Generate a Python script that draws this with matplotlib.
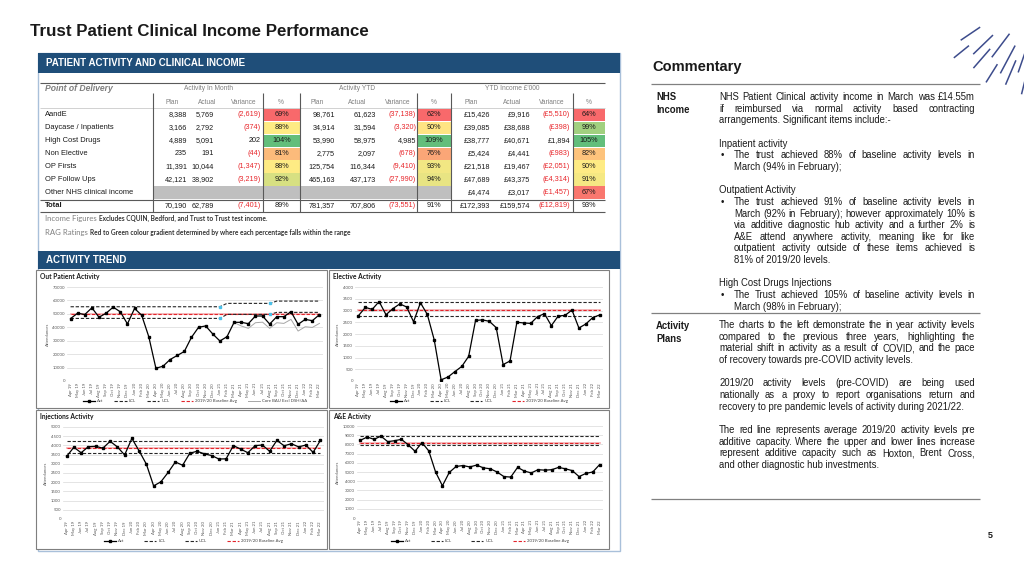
import matplotlib.pyplot as plt
import numpy as np
from matplotlib.patches import Rectangle
from matplotlib.colors import LinearSegmentedColormap
from matplotlib.lines import Line2D

# ---------------- table data ----------------
pod = ['AandE', 'Daycase / Inpatients', 'High Cost Drugs', 'Non Elective', 'OP Firsts',
       'OP Follow Ups', 'Other NHS clinical income', 'Total']
m_plan = [8388, 3166, 4889, 235, 11391, 42121, None, 70190]
m_act = [5769, 2792, 5091, 191, 10044, 38902, None, 62789]
m_var = [-2619, -374, 202, -44, -1347, -3219, None, -7401]
m_pct = [69, 88, 104, 81, 88, 92, None, 89]
y_plan = [98761, 34914, 53990, 2775, 125754, 465163, None, 781357]
y_act = [61623, 31594, 58975, 2097, 116344, 437173, None, 707806]
y_var = [-37138, -3320, 4985, -678, -9410, -27990, None, -73551]
y_pct = [62, 90, 109, 76, 93, 94, None, 91]
i_plan = [15426, 39085, 38777, 5424, 21518, 47689, 4474, 172393]
i_act = [9916, 38688, 40671, 4441, 19467, 43375, 3017, 159574]
i_var = [-5510, -398, 1894, -983, -2051, -4314, -1457, -12819]
i_pct = [64, 99, 105, 82, 90, 91, 67, 93]

# ---------------- chart data (Apr 19 - Mar 22) ----------------
mon = ['Apr', 'May', 'Jun', 'Jul', 'Aug', 'Sep', 'Oct', 'Nov', 'Dec', 'Jan', 'Feb', 'Mar']
months = [f'{m} {y + (1 if i > 8 else 0)}' for y in (19, 20, 21) for i, m in enumerate(mon)]

op_act = [46500, 50500, 49500, 54500, 47500, 50500, 55000, 51500, 42500, 54000, 49000, 33000,
          9500, 11000, 16000, 19000, 22000, 32500, 40000, 41000, 35000, 29800, 33000, 43700,
          43700, 42700, 48400, 48400, 42400, 47900, 47900, 51600, 42200, 45900, 44900, 49400]
op_core = [np.nan] * 23 + [43500, 41000, 39200, 43400, 43800, 39200, 43400, 42900, 45900,
                           37200, 40400, 39900, 42900]
op_ucl_levels = [55300, 57800, 59500]
op_lcl_levels = [46600, 49600, 51100]
op_steps = [21, 28]          # last month of each control-limit level (Jan 21, Aug 21)
op_base = 50100

el_act = [2780, 3130, 3050, 3380, 2820, 3080, 3280, 3150, 2520, 3330, 2830, 1750,
          50, 170, 400, 620, 1050, 2580, 2600, 2540, 2270, 700, 850, 2500,
          2470, 2450, 2740, 2865, 2355, 2765, 2795, 3020, 2255, 2425, 2695, 2810]
el_ucl, el_lcl, el_base = 3376, 2780, 3021

inj_act = [3400, 3900, 3600, 3930, 3950, 3850, 4220, 3920, 3480, 4380, 3700, 2980,
           1800, 2020, 2530, 3100, 2920, 3580, 3680, 3540, 3450, 3260, 3270, 3990,
           3800, 3600, 3990, 4020, 3680, 4270, 3980, 4090, 3920, 4020, 3620, 4270]
inj_ucl, inj_lcl, inj_base = 4220, 3600, 3850

ae_act = [8450, 8800, 8550, 8900, 8300, 8400, 8550, 7950, 7250, 8200, 7300, 5000,
          3500, 4950, 5600, 5700, 5550, 5750, 5450, 5350, 5000, 4500, 4450, 5500,
          5100, 4900, 5250, 5200, 5250, 5500, 5350, 5150, 4500, 4850, 5000, 5800]
ae_ucl, ae_lcl, ae_base = 8900, 7950, 8200

W, H = 1024, 576
ARIAL = 'Liberation Sans'
CAL = 'Lato'
NAVY = '#1F4E79'

fig = plt.figure(figsize=(W / 100, H / 100), dpi=100)
bg = fig.add_axes([0, 0, 1, 1])
bg.set_xlim(0, W)
bg.set_ylim(H, 0)
bg.axis('off')
renderer = fig.canvas.get_renderer()


def txt(x, y, s, size=5, family=ARIAL, **kw):
    kw.setdefault('va', 'center')
    return bg.text(x, y, s, fontsize=size, family=family, **kw)


def hline(y, x0, x1, c='#595959', lw=0.8):
    bg.plot([x0, x1], [y, y], color=c, lw=lw, solid_capstyle='butt')


def vline(x, y0, y1, c='#595959', lw=0.8):
    bg.plot([x, x], [y0, y1], color=c, lw=lw, solid_capstyle='butt')


# ---------------- title & decoration ----------------
txt(30, 32, 'Trust Patient Clinical Income Performance', 12.2, weight='bold', color='#1a1a1a')

ray_ang = [98, 104, 109, 113, 118, 122, 127, 131, 136, 141, 146]
ray_r0 = [70, 95, 62, 88, 75, 100, 68, 92, 80, 105, 85]
ray_len = [30, 22, 35, 25, 30, 20, 28, 24, 26, 18, 22]
for a, r0, ln in zip(ray_ang, ray_r0, ray_len):
    t = np.radians(a)
    bg.plot([1050 + r0 * np.cos(t), 1050 + (r0 + ln) * np.cos(t)],
            [-20 + r0 * np.sin(t), -20 + (r0 + ln) * np.sin(t)], color='#3D4C8C', lw=1.1)

# ---------------- left panel ----------------
bg.add_patch(Rectangle((38, 53), 582, 498, fill=False, ec='#A9C0DA', lw=1))
bg.add_patch(Rectangle((38, 53), 582, 20, fc=NAVY, ec='none'))
txt(46, 63, 'PATIENT ACTIVITY AND CLINICAL INCOME', 7, weight='bold', color='white')
bg.add_patch(Rectangle((38, 251), 582, 18, fc=NAVY, ec='none'))
txt(46, 260, 'ACTIVITY TREND', 7, weight='bold', color='white')

# table headers
hline(83, 40, 605)
txt(45, 88.5, 'Point of Delivery', 6.2, style='italic', weight='bold', color='#7F7F7F')
grey = '#7F7F7F'
txt(208, 88, 'Activity In Month', 4.8, ha='center', color=grey)
txt(357, 88, 'Activity YTD', 4.8, ha='center', color=grey)
txt(512, 88, "YTD Income £'000", 4.8, ha='center', color=grey)
sub_x = [172, 207, 244, 281, 317, 357, 398, 434, 471, 512, 552, 589]
for x, s in zip(sub_x, ['Plan', 'Actual', 'Variance', '%'] * 3):
    txt(x, 102, s, 4.8, ha='center', color=grey)
hline(108, 40, 605, c='#BFBFBF', lw=0.5)

rows_y = [115 + 12.9 * i for i in range(len(pod))]
rag = LinearSegmentedColormap.from_list('rag', ['#F8696B', '#FFEB84', '#63BE7B'])


def rag_color(v, col):
    vals = [c for c in col[:-1] if c is not None]
    mn, md, mx = min(vals), np.median(vals), max(vals)
    t = 0.5 * (v - mn) / (md - mn) if v <= md else 0.5 + 0.5 * (v - md) / (mx - md)
    return rag(t)


def fmt(v, money=False):
    if v is None:
        return ''
    s = f'{abs(v):,}'
    if money:
        s = '£' + s
    return f'({s})' if v < 0 else s


groups = [
    (m_plan, m_act, m_var, m_pct, [187, 214, 261], (263, 300), False),
    (y_plan, y_act, y_var, y_pct, [335, 376, 416], (417, 451), False),
    (i_plan, i_act, i_var, i_pct, [490, 530, 570], (573, 605), True),
]
other = pod.index('Other NHS clinical income')
bg.add_patch(Rectangle((153, rows_y[other] - 6.2), 451 - 153, 12.4, fc='#BFBFBF', ec='none'))
TF = 5.2
for r, (name, y) in enumerate(zip(pod, rows_y)):
    total = name == 'Total'
    txt(45, y, name, 5.4, weight='bold' if total else 'normal', color='#1a1a1a')
    for plan, act, var, pct, xs, (c0, c1), money in groups:
        if pct[r] is None:
            continue
        txt(xs[0], y, fmt(plan[r], money), TF, ha='right', color='#1a1a1a')
        txt(xs[1], y, fmt(act[r], money), TF, ha='right', color='#1a1a1a')
        txt(xs[2], y, fmt(var[r], money), TF, ha='right',
            color='#E8262B' if var[r] < 0 else '#1a1a1a')
        if not total:
            bg.add_patch(Rectangle((c0, y - 6.2), c1 - c0, 12.4, fc=rag_color(pct[r], pct), ec='none'))
        txt((c0 + c1) / 2, y, f'{pct[r]}%', TF, ha='center', color='#1a1a1a')

hline(199.5, 40, 605)
hline(212, 40, 605)
for x in [153, 263, 300, 417, 451, 573]:
    vline(x, 93, 212)

# footnotes
t1 = txt(45, 218, 'Income Figures', 5.6, family=CAL, color='#7F7F7F')
w1 = t1.get_window_extent(renderer).width
txt(45 + w1 + 2, 218.3, 'Excludes CQUIN, Bedford, and Trust to Trust test income.', 4.7,
    family=CAL, weight='bold', color='#333333')
t2 = txt(45, 232, 'RAG Ratings', 5.6, family=CAL, color='#7F7F7F')
w2 = t2.get_window_extent(renderer).width
txt(45 + w2 + 2, 232.3, 'Red to Green colour gradient determined by where each percentage falls within the range',
    4.7, family=CAL, weight='bold', color='#333333')

# ---------------- charts ----------------
frames = [(36, 270, 327, 408), (329, 270, 609, 408), (36, 410, 327, 549), (329, 410, 609, 549)]
for x0, y0, x1, y1 in frames:
    bg.add_patch(Rectangle((x0, y0), x1 - x0, y1 - y0, fc='white', ec='#7F7F7F', lw=0.8))

DASH = (0, (3, 1.6))
RED = '#E3242B'


def chart(px, tpos, title, act, ymax, ystep, ucl, lcl, base, core=None, marks=None, leg_y=20, colsp=3.5):
    l, t, r, b = px
    ax = fig.add_axes([l / W, 1 - b / H, (r - l) / W, (b - t) / H])
    ax.set_facecolor('none')
    x = np.arange(len(act))
    ax.set_xlim(-0.5, len(act) - 0.5)
    ax.set_ylim(0, ymax)
    ax.set_yticks(np.arange(0, ymax + 1, ystep))
    ax.yaxis.grid(True, color='#D9D9D9', lw=0.5)
    ax.set_axisbelow(True)
    for s in ax.spines.values():
        s.set_visible(False)
    ax.tick_params(length=0, labelsize=3.1, labelcolor='#595959', pad=1.5)
    ax.set_xticks(x)
    ax.set_xticklabels(months, rotation=90, family=CAL)
    for lab in ax.get_yticklabels():
        lab.set_family(CAL)
    ax.set_ylabel('Attendances', fontsize=3.1, color='#595959', family=CAL, labelpad=2)
    ax.plot(x, np.full(len(x), base), color='#F4B8BA', lw=1.3)
    ax.plot(x, np.full(len(x), base), color=RED, lw=0.8, ls=DASH)
    ax.plot(x, np.broadcast_to(ucl, x.shape), color='#262626', lw=0.8, ls=DASH)
    ax.plot(x, np.broadcast_to(lcl, x.shape), color='#262626', lw=0.8, ls=DASH)
    if core is not None:
        ax.plot(x, core, color='#A6A6A6', lw=0.7)
    if marks is not None:
        ax.plot(marks[0], marks[1], 's', color='#4BC0E8', ms=1.8, ls='none')
    ax.plot(x, act, color='black', lw=0.9, marker='s', ms=1.5)
    txt(tpos[0], tpos[1], title, 4.8, family=CAL, weight='bold', color='#1a1a1a')
    handles = [Line2D([], [], color='black', lw=0.9, marker='s', ms=1.5),
               Line2D([], [], color='#262626', lw=0.8, ls=DASH),
               Line2D([], [], color='#262626', lw=0.8, ls=DASH),
               Line2D([], [], color=RED, lw=0.8, ls=DASH)]
    labels = ['Act', 'LCL', 'UCL', '2019/20 Baseline Avg']
    if core is not None:
        handles.append(Line2D([], [], color='#A6A6A6', lw=0.7))
        labels.append('Core BAU Excl DSH/AA')
    leg = ax.legend(handles, labels, loc='center', bbox_to_anchor=(0.5, -leg_y / (b - t)),
                    ncol=len(labels), frameon=False, handlelength=2.8, columnspacing=colsp,
                    handletextpad=0.5, prop={'family': CAL, 'size': 3.1})
    for tx in leg.get_texts():
        tx.set_color('#404040')
    return ax


def steps(levels, ends, n):
    out = []
    for i in range(n):
        k = sum(i > e for e in ends)
        out.append(levels[k])
    return np.array(out, dtype=float)


n = len(months)
op_ucl = steps(op_ucl_levels, op_steps, n)
op_lcl = steps(op_lcl_levels, op_steps, n)
mk_x = op_steps + op_steps
mk_y = [op_ucl_levels[0], op_ucl_levels[1], op_lcl_levels[0], op_lcl_levels[1]]

chart((67, 287, 323, 381), (40, 277), 'Out Patient Activity', op_act, 70000, 10000, op_ucl, op_lcl,
      op_base, core=op_core, marks=(mk_x, mk_y), colsp=2.6)
chart((355, 287, 603, 381), (333, 277), 'Elective Activity', el_act, 4000, 500, el_ucl, el_lcl,
      el_base, colsp=4.5)
chart((63, 427, 324, 519), (40, 417), 'Injections Activity', inj_act, 5000, 500, inj_ucl, inj_lcl,
      inj_base, leg_y=22, colsp=4.5)
chart((357, 426, 603, 518), (333, 417), 'A&E Activity', ae_act, 10000, 1000, ae_ucl, ae_lcl,
      ae_base, leg_y=23, colsp=4.5)

# ---------------- commentary ----------------
txt(652, 67, 'Commentary', 10.5, weight='bold', color='#1a1a1a')
hline(84, 651, 980, c='#808080', lw=0.9)
hline(313, 651, 980, c='#808080', lw=0.9)
hline(499, 651, 980, c='#808080', lw=0.9)
FS = 6.85
txt(656, 97, 'NHS', FS, weight='bold', color='#1a1a1a')
txt(656, 110, 'Income', FS, weight='bold', color='#1a1a1a')
txt(656, 326, 'Activity', FS, weight='bold', color='#1a1a1a')
txt(656, 339, 'Plans', FS, weight='bold', color='#1a1a1a')

nhs_lines = [
    'NHS Patient Clinical activity income in March was £14.55m',
    'if reimbursed via normal activity based contracting',
    'arrangements. Significant items include:-',
    '',
    'Inpatient activity',
    '• The trust achieved 88% of baseline activity levels in',
    '  March (94% in February);',
    '',
    'Outpatient Activity',
    '• The trust achieved 91% of baseline activity levels in',
    '  March (92% in February); however approximately 10% is',
    '  via additive diagnostic hub activity and a further 2% is',
    '  A&E attend anywhere activity, meaning like for like',
    '  outpatient activity outside of these items achieved is',
    '  81% of 2019/20 levels.',
    '',
    'High Cost Drugs Injections',
    '• The Trust achieved 105% of baseline activity levels in',
    '  March (98% in February);',
]
plan_lines = [
    'The charts to the left demonstrate the in year activity levels',
    'compared to the previous three years, highlighting the',
    'material shift in activity as a result of COVID, and the pace',
    'of recovery towards pre-COVID activity levels.',
    '',
    '2019/20 activity levels (pre-COVID) are being used',
    'nationally as a proxy to report organisations return and',
    'recovery to pre pandemic levels of activity during 2021/22.',
    '',
    'The red line represents average 2019/20 activity levels pre',
    'additive capacity.  Where the upper and lower lines increase',
    'represent additive capacity such as Hoxton, Brent Cross,',
    'and other diagnostic hub investments.',
]

RIGHT = 975


def put_line(x0, y, line, justify):
    words = line.split()
    if not justify or len(words) < 2:
        txt(x0, y, line, FS, color='#1a1a1a')
        return
    objs = [txt(x0, y, w, FS, color='#1a1a1a') for w in words]
    widths = [o.get_window_extent(renderer).width for o in objs]
    gap = (RIGHT - x0 - sum(widths)) / (len(words) - 1)
    x = x0
    for o, w in zip(objs, widths):
        o.set_x(x)
        x += w + gap


def block(lines, y):
    for i, line in enumerate(lines):
        if line == '':
            y += 11.9
            continue
        nxt = lines[i + 1] if i + 1 < len(lines) else ''
        justify = nxt != '' and not nxt.startswith('•')
        x0 = 719
        if line.startswith('•'):
            txt(721, y, '•', FS, color='#1a1a1a')
            line = line[1:]
            x0 = 734
        elif line.startswith('  '):
            x0 = 734
        put_line(x0, y, line.strip(), justify)
        y += 11.6


block(nhs_lines, 97)
block(plan_lines, 325)

txt(988, 536, '5', 6.5, weight='bold', color='#1a1a1a')

fig.savefig('out.png', dpi=100)
